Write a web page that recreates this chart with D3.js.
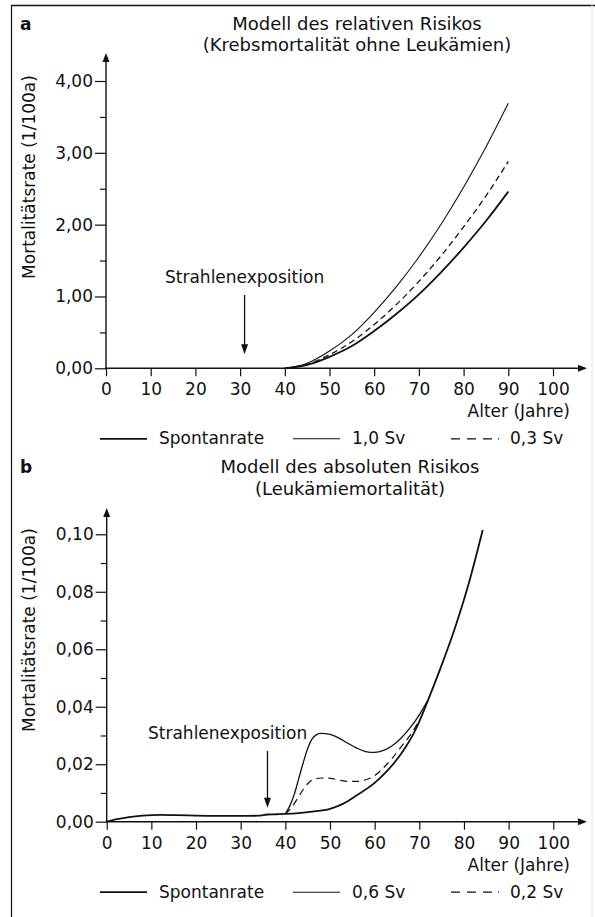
<!DOCTYPE html>
<html lang="de">
<head>
<meta charset="utf-8">
<title>Modell des relativen und absoluten Risikos</title>
<script src="https://d3js.org/d3.v7.min.js"></script>
<style>
  body { margin: 0; background: #fff; }
  svg text { font-family: 'DejaVu Sans', sans-serif; fill: #111; }
</style>
</head>
<body>
<svg id="chart" width="595" height="917"></svg>
<script>
// ---- data: panel a (relatives Risiko, Krebsmortalität ohne Leukämien)
const ageA = [40, 45, 50, 55, 60, 65, 70, 75, 80, 85, 90];
const spontanA = [0, 0.047, 0.16, 0.31, 0.52, 0.76, 1.03, 1.34, 1.68, 2.05, 2.46];
const sv10A = [0, 0.07, 0.24, 0.47, 0.78, 1.14, 1.55, 2.01, 2.52, 3.08, 3.69];
const sv03A = [0, 0.055, 0.19, 0.37, 0.61, 0.89, 1.21, 1.57, 1.97, 2.40, 2.88];
const yTicksA = [0, 1, 2, 3, 4];
const yMinorA = [0.5, 1.5, 2.5, 3.5];
const legendA = ["Spontanrate", "1,0 Sv", "0,3 Sv"];
const expoAgeA = 31;

// ---- data: panel b (absolutes Risiko, Leukämiemortalität)
const ageSpontanB = [0, 2, 5, 8, 12, 16, 20, 25, 30, 34, 36, 38, 40, 43, 46, 50, 53, 56, 60, 63, 66, 69, 72, 75, 78, 81, 84.2];
const spontanB = [0, 0.0008, 0.0016, 0.0021, 0.0024, 0.0023, 0.0021, 0.002, 0.002, 0.0021, 0.0025, 0.0026, 0.0027, 0.003, 0.0035, 0.0045, 0.0063, 0.0092, 0.0135, 0.018, 0.0238, 0.0315, 0.0425, 0.0545, 0.0675, 0.0825, 0.1015];
const age06B = [40, 41, 42, 43, 44, 45, 46, 47, 48, 50, 52, 54, 56, 58, 60, 62, 64, 66, 68, 70, 72];
const sv06B = [0.0027, 0.0055, 0.0095, 0.015, 0.0205, 0.0255, 0.0288, 0.0303, 0.0307, 0.0304, 0.0291, 0.0273, 0.0256, 0.0244, 0.0241, 0.0248, 0.0265, 0.0292, 0.0328, 0.0372, 0.0425];
const age02B = [40, 41, 42, 43, 44, 45, 46, 48, 50, 52, 54, 56, 58, 60, 62, 64, 66, 68, 70];
const sv02B = [0.0027, 0.0042, 0.0063, 0.0088, 0.0112, 0.0132, 0.0145, 0.0152, 0.0151, 0.0145, 0.014, 0.014, 0.0146, 0.016, 0.0188, 0.0222, 0.0262, 0.0302, 0.0352];
const yTicksB = [0, 0.02, 0.04, 0.06, 0.08, 0.10];
const yMinorB = [0.01, 0.03, 0.05, 0.07, 0.09];
const legendB = ["Spontanrate", "0,6 Sv", "0,2 Sv"];
const expoAgeB = 36;

const xTicks = [0, 10, 20, 30, 40, 50, 60, 70, 80, 90, 100];

const de = d3.formatLocale({decimal: ",", thousands: ".", grouping: [3], currency: ["", " €"]});
const fmt2 = de.format(".2f");

const svg = d3.select("#chart");
const ink = "#111";

// frame of the scanned page
svg.append("line").attr("x1", 11).attr("x2", 595).attr("y1", 5.5).attr("y2", 5.5)
   .attr("stroke", ink).attr("stroke-width", 1.4);
svg.append("line").attr("x1", 11.5).attr("x2", 11.5).attr("y1", 5).attr("y2", 917)
   .attr("stroke", ink).attr("stroke-width", 1.2);
svg.append("line").attr("x1", 592).attr("x2", 592).attr("y1", 0).attr("y2", 917)
   .attr("stroke", "#e4e4e4").attr("stroke-width", 1);

function drawPanel(p) {
  const x = d3.scaleLinear().domain([0, 100]).range([p.left, p.right]);
  const y = d3.scaleLinear().domain([0, p.yMax]).range([p.bottom, p.top]);
  const g = svg.append("g");

  // minor y ticks
  g.append("g")
    .attr("transform", `translate(${x(0)},0)`)
    .call(d3.axisLeft(y).tickValues(p.yMinor).tickSize(6).tickFormat(""))
    .call(a => a.select(".domain").remove())
    .call(a => a.selectAll("line").attr("stroke", ink).attr("stroke-width", 1.2));

  // major y ticks
  g.append("g")
    .attr("transform", `translate(${x(0)},0)`)
    .call(d3.axisLeft(y).tickValues(p.yTicks).tickSize(11).tickPadding(2).tickFormat(fmt2))
    .attr("font-size", 17).attr("font-family", null)
    .call(a => a.select(".domain").remove())
    .call(a => a.selectAll("line").attr("stroke", ink).attr("stroke-width", 1.2));

  // x ticks
  g.append("g")
    .attr("transform", `translate(0,${y(0)})`)
    .call(d3.axisBottom(x).tickValues(xTicks).tickSize(8).tickPadding(7))
    .attr("font-size", 17).attr("font-family", null)
    .call(a => a.select(".domain").remove())
    .call(a => a.selectAll("line").attr("stroke", ink).attr("stroke-width", 1.2));

  // axis lines with arrows
  g.append("line").attr("x1", x(0)).attr("x2", x(0)).attr("y1", y(0)).attr("y2", p.arrowTop + 4)
    .attr("stroke", ink).attr("stroke-width", 1.4);
  g.append("path")
    .attr("d", `M${x(0)},${p.arrowTop} l-3.5,9 l7,0 z`)
    .attr("fill", ink);
  g.append("line").attr("x1", x(0) - 1).attr("x2", p.arrowRight - 4).attr("y1", y(0)).attr("y2", y(0))
    .attr("stroke", ink).attr("stroke-width", 1.4);
  g.append("path")
    .attr("d", `M${p.arrowRight},${y(0)} l-9,-3.5 l0,7 z`)
    .attr("fill", ink);

  // panel letter and titles
  g.append("text").attr("x", 20).attr("y", p.titleY)
    .attr("font-size", 17).attr("font-weight", "bold").text(p.letter);
  p.title.forEach((t, i) => {
    g.append("text").attr("x", p.titleX).attr("y", p.titleY + i * 21.5)
      .attr("text-anchor", "middle").attr("font-size", 18).text(t);
  });

  // axis titles
  g.append("text")
    .attr("transform", `translate(35,${p.yLabelY}) rotate(-90)`)
    .attr("text-anchor", "middle").attr("font-size", 17)
    .text("Mortalitätsrate (1/100a)");
  g.append("text").attr("x", 570).attr("y", y(0) + 49)
    .attr("text-anchor", "end").attr("font-size", 17)
    .text("Alter (Jahre)");

  // Strahlenexposition annotation
  g.append("text").attr("x", p.expoTextX).attr("y", p.expoTextY)
    .attr("font-size", 17).text("Strahlenexposition");
  const ax = x(p.expoAge);
  g.append("line").attr("x1", ax).attr("x2", ax).attr("y1", p.expoTextY + 12).attr("y2", y(0) - 20)
    .attr("stroke", ink).attr("stroke-width", 1.3);
  g.append("path").attr("d", `M${ax},${y(0) - 14} l-3.5,-10 l7,0 z`).attr("fill", ink);

  // legend
  const ly = y(0) + 76;
  const items = [
    {x1: 100, x2: 147, tx: 159, w: 1.8, dash: null},
    {x1: 293, x2: 340, tx: 352, w: 1.1, dash: null},
    {x1: 451, x2: 499, tx: 510, w: 1.2, dash: "9,7,9,7,9,6,2,20"}
  ];
  items.forEach((it, i) => {
    g.append("line").attr("x1", it.x1).attr("x2", it.x2).attr("y1", ly - 5.5).attr("y2", ly - 5.5)
      .attr("stroke", ink).attr("stroke-width", it.w)
      .attr("stroke-dasharray", it.dash);
    g.append("text").attr("x", it.tx).attr("y", ly).attr("font-size", 17).text(p.legend[i]);
  });

  return {x, y, g};
}

// ---------- panel a
const pa = drawPanel({
  left: 106, right: 553, bottom: 368.3, top: 81, yMax: 4,
  yTicks: yTicksA, yMinor: yMinorA, arrowTop: 53, arrowRight: 587,
  letter: "a", titleX: 357, titleY: 29.5,
  title: ["Modell des relativen Risikos", "(Krebsmortalität ohne Leukämien)"],
  yLabelY: 177, expoTextX: 165, expoTextY: 283, expoAge: expoAgeA,
  legend: legendA
});

const lineA = d3.line().x((d, i) => pa.x(ageA[i])).y(d => pa.y(d)).curve(d3.curveMonotoneX);
pa.g.append("path").datum(spontanA).attr("d", lineA)
  .attr("fill", "none").attr("stroke", ink).attr("stroke-width", 1.8);
pa.g.append("path").datum(sv10A).attr("d", lineA)
  .attr("fill", "none").attr("stroke", ink).attr("stroke-width", 1.1);
pa.g.append("path").datum(sv03A).attr("d", lineA)
  .attr("fill", "none").attr("stroke", ink).attr("stroke-width", 1.3)
  .attr("stroke-dasharray", "6,4");

// ---------- panel b
const pb = drawPanel({
  left: 106.7, right: 553.3, bottom: 821.7, top: 534.3, yMax: 0.10,
  yTicks: yTicksB, yMinor: yMinorB, arrowTop: 508, arrowRight: 587,
  letter: "b", titleX: 350, titleY: 473,
  title: ["Modell des absoluten Risikos", "(Leukämiemortalität)"],
  yLabelY: 630, expoTextX: 148, expoTextY: 739, expoAge: expoAgeB,
  legend: legendB
});

function lineB(ages) {
  return d3.line().x((d, i) => pb.x(ages[i])).y(d => pb.y(d)).curve(d3.curveMonotoneX);
}
pb.g.append("path").datum(sv02B).attr("d", lineB(age02B))
  .attr("fill", "none").attr("stroke", ink).attr("stroke-width", 1.2)
  .attr("stroke-dasharray", "7,5");
pb.g.append("path").datum(sv06B).attr("d", lineB(age06B))
  .attr("fill", "none").attr("stroke", ink).attr("stroke-width", 1.3);
pb.g.append("path").datum(spontanB).attr("d", lineB(ageSpontanB))
  .attr("fill", "none").attr("stroke", ink).attr("stroke-width", 1.8);
</script>
</body>
</html>
